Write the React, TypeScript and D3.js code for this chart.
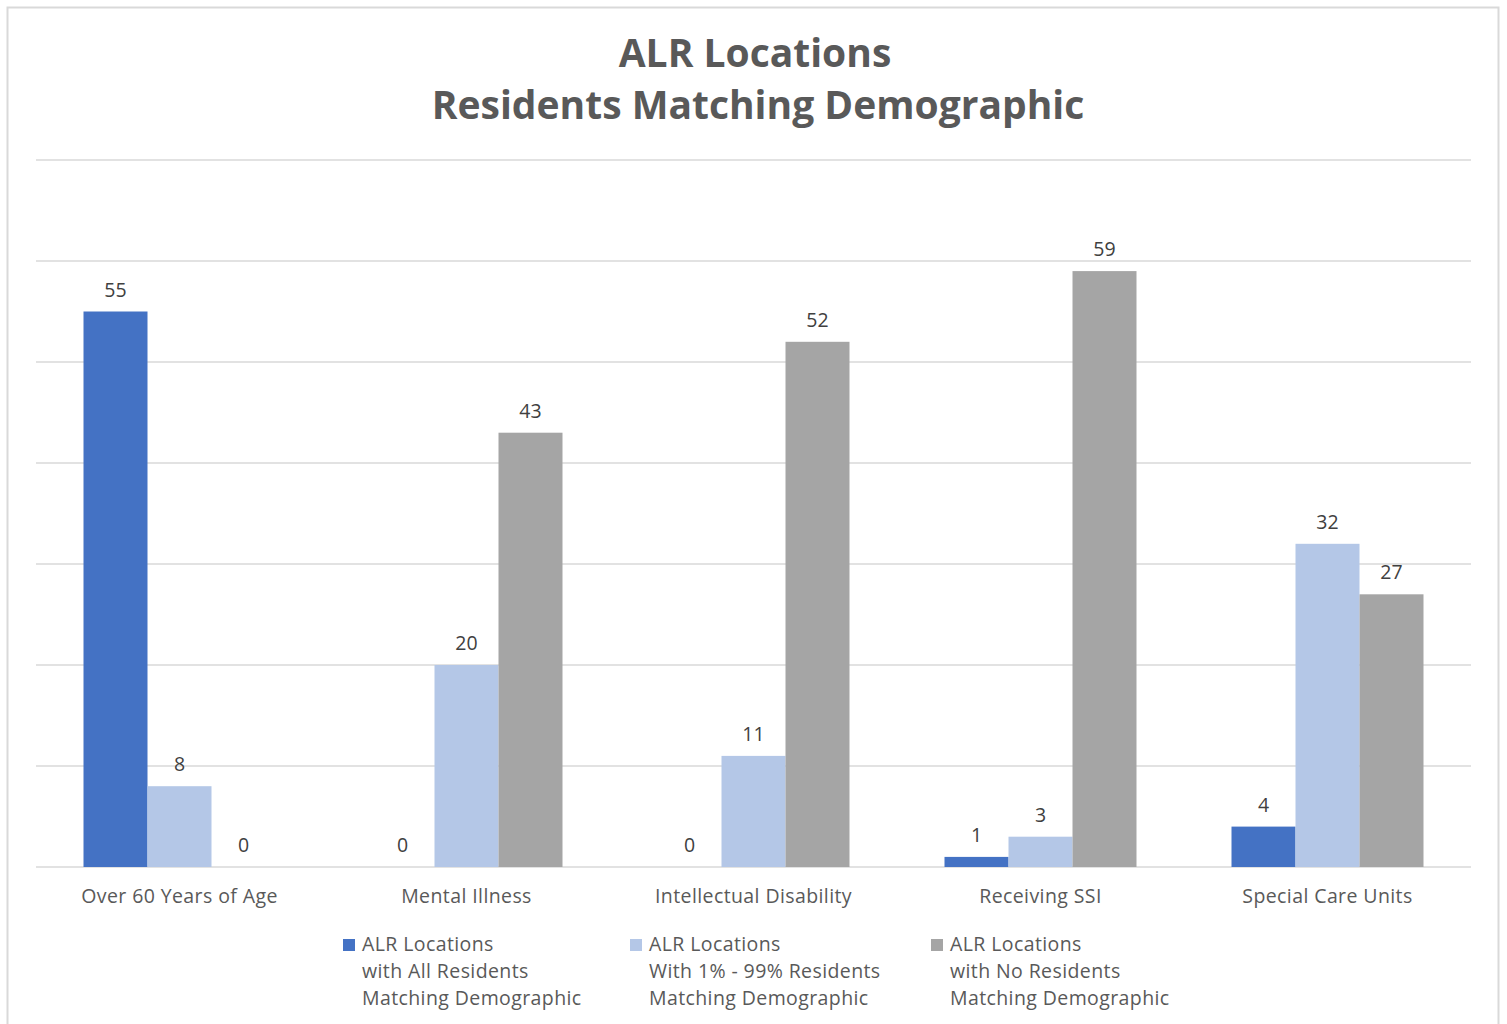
import * as d3 from "d3";

const categories = [
  "Over 60 Years of Age",
  "Mental Illness",
  "Intellectual Disability",
  "Receiving SSI",
  "Special Care Units",
];
const allResidents = [55, 0, 0, 1, 4];
const someResidents = [8, 20, 11, 3, 32];
const noResidents = [0, 43, 52, 59, 27];
const seriesNames = [
  ["ALR Locations", "with All Residents", "Matching Demographic"],
  ["ALR Locations", "With 1% - 99% Residents", "Matching Demographic"],
  ["ALR Locations", "with No Residents", "Matching Demographic"],
];
const colors = ["#4472C4", "#B4C7E7", "#A5A5A5"];
const yTicks = [0, 10, 20, 30, 40, 50, 60, 70];

const font = "'Open Sans', 'Noto Sans', sans-serif";

export default function App() {
  const width = 1507;
  const height = 1024;
  const plot = { left: 36, right: 1471, top: 160, bottom: 867 };
  const series = [allResidents, someResidents, noResidents];

  const x0 = d3
    .scaleBand<string>()
    .domain(categories)
    .range([plot.left, plot.right])
    .paddingInner(0.331)
    .paddingOuter(0.1655);
  const x1 = d3
    .scaleBand<number>()
    .domain([0, 1, 2])
    .range([0, x0.bandwidth()]);
  const y = d3.scaleLinear().domain([0, 70]).range([plot.bottom, plot.top]);

  const legendX = [343, 630, 931];

  return (
    <svg
      width={width}
      height={height}
      style={{ position: "absolute", left: 0, top: 0, background: "#fff" }}
    >
      <rect x={7.5} y={7.5} width={1491} height={1040} fill="#fff" stroke="#d9d9d9" strokeWidth={2} />

      <text
        x={755}
        textAnchor="middle"
        fontFamily={font}
        fontWeight="bold"
        fontSize={39}
        fill="#595959"
      >
        <tspan x={755} y={67}>ALR Locations</tspan>
        <tspan x={758} y={119}>Residents Matching Demographic</tspan>
      </text>

      {yTicks.map((t) => (
        <line
          key={t}
          x1={plot.left}
          x2={plot.right}
          y1={y(t)}
          y2={y(t)}
          stroke="#d9d9d9"
          strokeWidth={1.5}
        />
      ))}

      {categories.map((c, i) => (
        <g key={c} transform={`translate(${x0(c)},0)`}>
          {series.map((s, k) => (
            <g key={k}>
              <rect
                x={x1(k)}
                y={y(s[i])}
                width={x1.bandwidth()}
                height={y(0) - y(s[i])}
                fill={colors[k]}
              />
              <text
                x={(x1(k) ?? 0) + x1.bandwidth() / 2}
                y={y(s[i]) - 15}
                textAnchor="middle"
                fontFamily={font}
                fontSize={19.5}
                fill="#404040"
              >
                {s[i]}
              </text>
            </g>
          ))}
          <text
            x={x0.bandwidth() / 2}
            y={903}
            textAnchor="middle"
            fontFamily={font}
            fontSize={19.5}
            letterSpacing={0.4}
            fill="#595959"
          >
            {c}
          </text>
        </g>
      ))}

      {seriesNames.map((lines, k) => (
        <g key={k}>
          <rect x={legendX[k]} y={939} width={12} height={12} fill={colors[k]} />
          <text fontFamily={font} fontSize={19.5} letterSpacing={0.4} fill="#595959">
            {lines.map((ln, j) => (
              <tspan key={j} x={legendX[k] + 19} y={951 + j * 27}>
                {ln}
              </tspan>
            ))}
          </text>
        </g>
      ))}
    </svg>
  );
}
